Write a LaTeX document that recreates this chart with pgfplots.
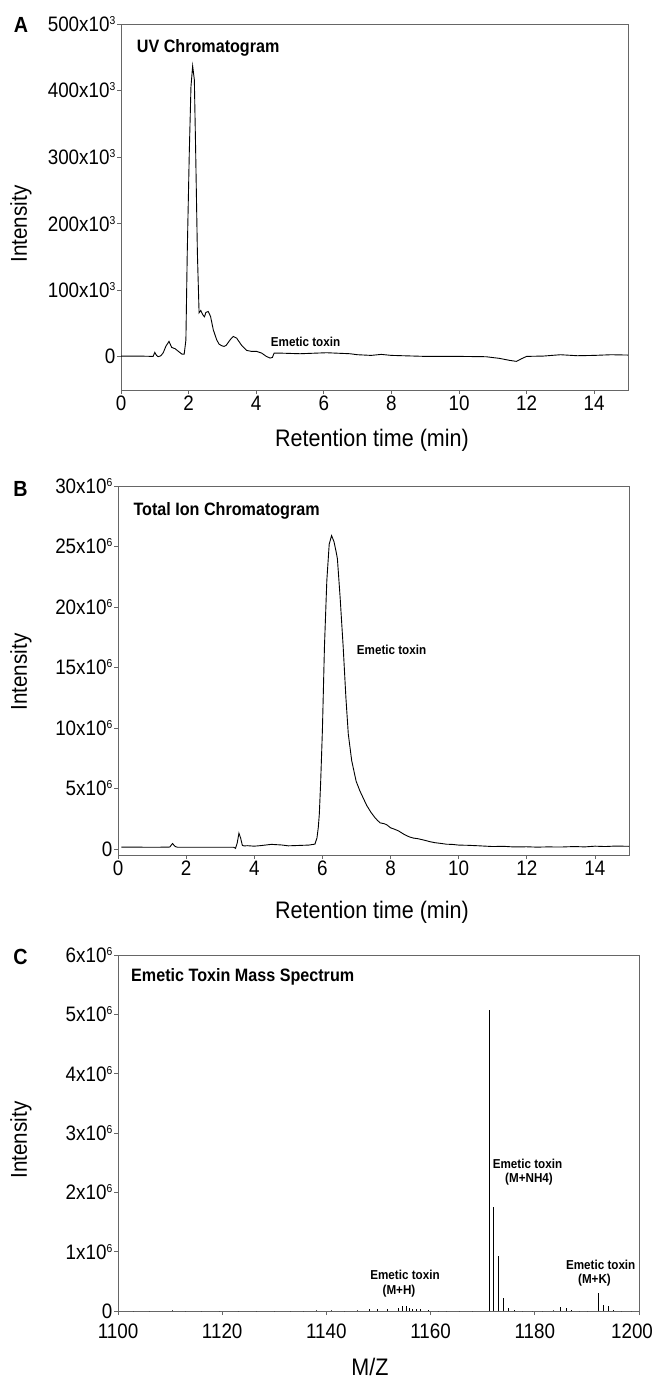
\documentclass[border=0pt]{standalone}
\usepackage{fontspec}
\setmainfont{Liberation Sans}[FakeStretch=0.9]
\usepackage{pgfplots}
\pgfplotsset{compat=1.18}

% superscript for the x10^n tick labels
\newcommand{\sx}[1]{\raisebox{7bp}{\fontsize{11.5}{12}\selectfont #1}}

\pgfplotsset{
  panel/.style={
    scale only axis,
    anchor=north west,
    axis line style={black!60, line width=0.8bp},
    tick style={black!60, line width=0.8bp},
    tick pos=left, tick align=outside,
    major tick length=4bp,
    ticklabel style={font=\fontsize{21}{21}\selectfont, inner sep=1.5bp},
    /pgf/number format/assume math mode=true,
    /pgf/number format/1000 sep={},
    scaled ticks=false,
  },
  trace/.style={black, no markers, line width=0.9bp},
}

\begin{document}
\begin{tikzpicture}
\useasboundingbox (0,0) rectangle (655bp,-1378bp);

% ---------------- A: UV chromatogram
\begin{axis}[panel, at={(121bp,-24bp)}, width=507bp, height=366bp,
  xmin=0, xmax=15, ymin=-50000, ymax=500000,
  xtick={0,2,...,14},
  ytick={0,100000,200000,300000,400000,500000},
  yticklabels={0,100x10\sx{3},200x10\sx{3},300x10\sx{3},400x10\sx{3},500x10\sx{3}}]
\addplot[trace] coordinates {
(0,1000)(0.5,1000)(0.95,500)(1.0,6500)(1.05,2000)(1.1,0)(1.18,1500)(1.25,6000)
(1.33,16000)(1.42,23000)(1.5,14000)(1.6,12000)(1.7,8000)(1.8,4000)(1.87,4000)
(1.92,25000)(1.96,156000)(2.02,306000)(2.07,406000)(2.12,437000)(2.17,416000)
(2.21,306000)(2.26,156000)(2.31,66000)(2.36,69500)(2.42,63000)(2.47,60000)
(2.51,66500)(2.58,68000)(2.65,60500)(2.73,40500)(2.83,25500)(2.9,19000)
(2.98,16500)(3.05,15500)(3.11,17000)(3.23,25500)(3.32,30500)(3.42,28000)
(3.57,17000)(3.72,9500)(3.86,8000)(4.01,8000)(4.16,5500)(4.3,500)(4.41,-2000)
(4.48,-1000)(4.53,5500)(4.66,5500)(5.3,4500)(6.08,6000)(6.77,4500)(7.0,3000)
(7.4,2000)(7.7,3500)(8.0,2000)(9.0,500)(10.0,500)(10.8,0)(11.2,-2500)
(11.5,-5500)(11.7,-7000)(11.85,-3000)(12.0,500)(12.5,1000)(13.0,3000)
(13.5,1500)(14.0,2000)(14.5,3000)(15,2500)
};
\end{axis}

% ---------------- B: total ion chromatogram
\begin{axis}[panel, at={(118bp,-486bp)}, width=511bp, height=369bp,
  xmin=0, xmax=15, ymin=-500000, ymax=30000000,
  xtick={0,2,...,14},
  ytick={0,5000000,10000000,15000000,20000000,25000000,30000000},
  yticklabels={0,5x10\sx{6},10x10\sx{6},15x10\sx{6},20x10\sx{6},25x10\sx{6},30x10\sx{6}}]
\addplot[trace] coordinates {
(0.1,150000)(0.5,150000)(1.0,140000)(1.45,150000)(1.52,160000)(1.6,450000)
(1.68,200000)(1.75,140000)(2.5,140000)(3.0,140000)(3.4,140000)(3.45,50000)
(3.5,500000)(3.55,1300000)(3.6,900000)(3.65,300000)(3.7,250000)(3.8,270000)
(4.0,230000)(4.2,280000)(4.5,380000)(4.8,330000)(5.0,260000)(5.3,290000)
(5.6,320000)(5.78,400000)(5.84,900000)(5.88,1800000)(5.91,2900000)
(5.95,5600000)(6.0,9800000)(6.06,16700000)(6.13,22200000)(6.2,25200000)
(6.27,25900000)(6.34,25400000)(6.4,24600000)(6.44,24000000)(6.52,20800000)
(6.61,16700000)(6.69,12500000)(6.76,9500000)(6.86,7300000)(6.99,5600000)
(7.1,4800000)(7.2,4200000)(7.3,3600000)(7.42,3050000)(7.54,2600000)
(7.62,2350000)(7.7,2150000)(7.8,2100000)(7.89,2000000)(8.0,1750000)
(8.1,1650000)(8.23,1500000)(8.4,1200000)(8.55,1000000)(8.67,900000)
(8.8,850000)(9.0,720000)(9.16,600000)(9.3,520000)(9.5,450000)(9.65,390000)
(9.8,380000)(10.0,320000)(10.3,300000)(10.6,260000)(11.0,200000)
(11.3,220000)(11.6,170000)(12.0,180000)(12.3,150000)(12.6,170000)
(13.0,160000)(13.4,200000)(13.7,170000)(14.0,230000)(14.3,200000)
(14.6,240000)(15.0,220000)
};
\end{axis}

% ---------------- C: mass spectrum
\begin{axis}[panel, at={(118bp,-955bp)}, width=521bp, height=356bp,
  xmin=1100, xmax=1200, ymin=0, ymax=6000000,
  xtick={1100,1120,...,1200},
  xticklabels={1100,1120,1140,1160,1180,\hspace*{-14bp}1200},
  xticklabel style={yshift=-7bp},
  ytick={0,1000000,2000000,3000000,4000000,5000000,6000000},
  yticklabels={0,1x10\sx{6},2x10\sx{6},3x10\sx{6},4x10\sx{6},5x10\sx{6},6x10\sx{6}}]
\addplot[ycomb, black, line width=0.9bp] coordinates {
(1148.2,40000)(1149.8,30000)(1151.8,30000)(1153.9,55000)(1154.6,80000)
(1155.3,80000)(1156.0,55000)(1156.6,35000)(1157.3,30000)(1158.1,35000)
(1159.5,20000)(1171.2,5080000)(1172.0,1750000)(1173.0,930000)(1174.0,220000)
(1175.0,50000)(1176.0,20000)(1184.9,70000)(1186.0,50000)(1187.0,15000)
(1192.3,310000)(1193.2,100000)(1194.1,85000)(1195.0,25000)
};
\addplot[ycomb, black!70, line width=0.5bp] coordinates {
(1103,8000)(1106,6000)(1110.5,10000)(1113,7000)(1116,6000)(1119.5,8000)
(1123,6000)(1126.5,7000)(1130,6000)(1133,8000)(1135.5,7000)(1138,9000)
(1141,10000)(1143.5,8000)(1146,12000)(1161.5,8000)(1163,6000)(1165.5,7000)
(1168,6000)(1177.5,8000)(1179.5,6000)(1181.5,7000)(1183.5,9000)(1188.5,8000)
(1190,7000)(1196.5,8000)(1198.5,6000)
};
\end{axis}

% ---------------- labels
\tikzset{lab/.style={font=\fontsize{24}{24}\selectfont, inner sep=0pt},
         ylab/.style={font=\fontsize{23}{23}\selectfont, inner sep=0pt, rotate=90},
         let/.style={font=\bfseries\fontsize{22}{22}\selectfont, inner sep=0pt},
         ttl/.style={font=\bfseries\fontsize{18}{18}\selectfont, inner sep=0pt, anchor=base west},
         ann/.style={font=\bfseries\fontsize{13}{13}\selectfont, inner sep=0pt, anchor=base}}

\node[let] at (21bp,-24.5bp) {A};
\node[let] at (20.5bp,-489bp) {B};
\node[let] at (20.5bp,-957bp) {C};

\node[ylab] at (21bp,-224bp) {Intensity};
\node[ylab] at (21bp,-672bp) {Intensity};
\node[ylab] at (21bp,-1140bp) {Intensity};

\node[lab] at (372bp,-440bp) {Retention time (min)};
\node[lab] at (372bp,-912bp) {Retention time (min)};
\node[lab] at (370bp,-1367bp) {M/Z};

\node[ttl] at (136.7bp,-52.3bp) {UV Chromatogram};
\node[ttl] at (133.3bp,-515bp) {Total Ion Chromatogram};
\node[ttl] at (131bp,-981.7bp) {Emetic Toxin Mass Spectrum};

\node[ann, anchor=base west] at (270.7bp,-346bp) {Emetic toxin};
\node[ann, anchor=base west] at (356.7bp,-654bp) {Emetic toxin};
\node[ann] at (405bp,-1279.3bp) {Emetic toxin};
\node[ann] at (399bp,-1294bp) {(M+H)};
\node[ann] at (527.5bp,-1168.3bp) {Emetic toxin};
\node[ann] at (529bp,-1182.5bp) {(M+NH4)};
\node[ann] at (600.7bp,-1269bp) {Emetic toxin};
\node[ann] at (594.5bp,-1283bp) {(M+K)};
\end{tikzpicture}
\end{document}
